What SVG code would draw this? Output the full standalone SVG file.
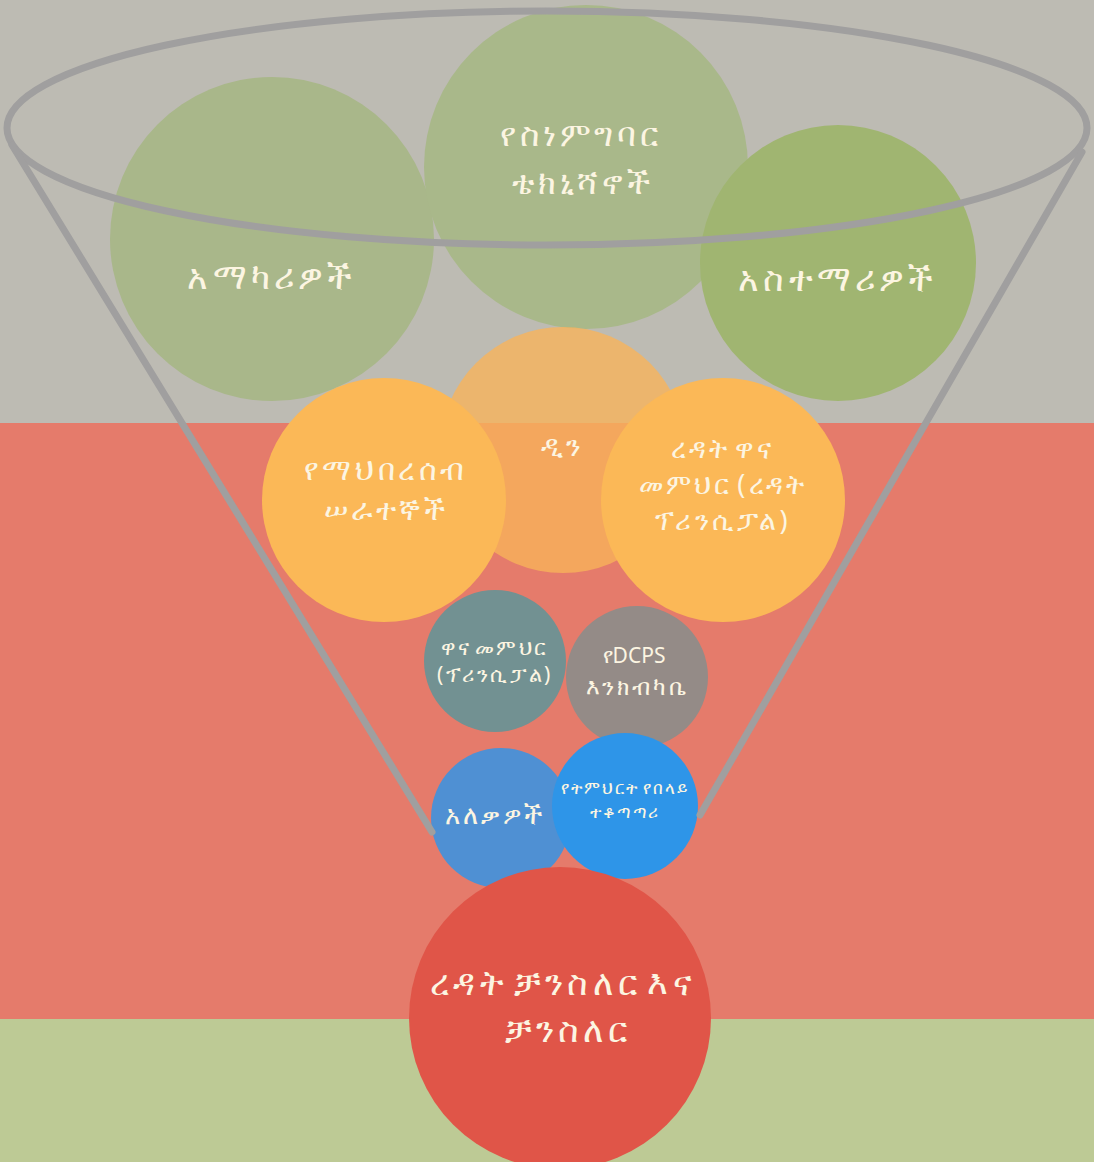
<svg xmlns="http://www.w3.org/2000/svg" width="1094" height="1162" viewBox="0 0 1094 1162">
<style>
text{font-family:"Noto Sans","DejaVu Sans",sans-serif;fill:#fcf5e2;text-anchor:middle;dominant-baseline:middle;letter-spacing:0.12em;word-spacing:-0.2em}
.funnel{fill:none;stroke:#a09f9f;stroke-width:7;stroke-linecap:round}
</style>
<g id="background">
<rect x="0" y="0" width="1094" height="424" fill="#bdbbb3"/>
<rect x="0" y="423" width="1094" height="597" fill="#e57b6b"/>
<rect x="0" y="1019" width="1094" height="143" fill="#bdca95"/>
</g>
<g id="node-amakari"><circle cx="272" cy="239" r="162" fill="#a9b78a"/><text x="272" y="280" font-size="35">አማካሪዎች</text></g>
<g id="node-ethics"><circle cx="586" cy="167" r="162" fill="#a9b88a"/><text x="581" y="137" font-size="33">የስነምግባር</text><text x="583" y="185" font-size="33">ቴክኒሻኖች</text></g>
<g id="node-teachers"><circle cx="838" cy="263" r="138" fill="#a0b571"/><text x="838" y="282" font-size="35">አስተማሪዎች</text></g>
<g id="node-dean"><circle cx="563" cy="450" r="123" fill="#f8b35a" fill-opacity="0.78"/><text x="563" y="448" font-size="28">ዲን</text></g>
<g id="node-community"><circle cx="384" cy="500" r="122" fill="#fbb857"/><text x="386" y="472" font-size="30">የማህበረሰብ</text><text x="386" y="512" font-size="30">ሠራተኞች</text></g>
<g id="node-asstprincipal"><circle cx="723" cy="500" r="122" fill="#fbb857"/><text x="723" y="451" font-size="27">ረዳት ዋና</text><text x="723" y="487" font-size="27">መምህር (ረዳት</text><text x="723" y="523" font-size="27">ፕሪንሲፓል)</text></g>
<g id="node-principal"><circle cx="495" cy="661" r="71" fill="#729192"/><text x="495" y="649" font-size="21">ዋና መምህር</text><text x="495" y="676" font-size="21">(ፕሪንሲፓል)</text></g>
<g id="node-dcps"><circle cx="637" cy="677" r="71" fill="#948b87"/><text x="634" y="657" font-size="21" style="letter-spacing:0">የDCPS</text><text x="637" y="689" font-size="23">እንክብካቤ</text></g>
<g id="node-alekawoch"><circle cx="501" cy="818" r="70" fill="#4f90d3"/><text x="495" y="817" font-size="26">አለቃዎች</text></g>
<g id="node-superintendent"><circle cx="625" cy="806" r="73" fill="#2e95e8"/><text x="625" y="789" font-size="17">የትምህርት የበላይ</text><text x="625" y="813" font-size="17">ተቆጣጣሪ</text></g>
<g id="connectors">
<ellipse class="funnel" cx="547" cy="128" rx="540" ry="117"/>
<line class="funnel" x1="12" y1="145" x2="432" y2="832"/>
<line class="funnel" x1="1082" y1="152" x2="700" y2="815"/>
</g>
<g id="node-chancellor"><circle cx="560" cy="1018" r="151" fill="#e05548"/><text x="563" y="986" font-size="35">ረዳት ቻንስለር እና</text><text x="568" y="1033" font-size="35">ቻንስለር</text></g>
</svg>
